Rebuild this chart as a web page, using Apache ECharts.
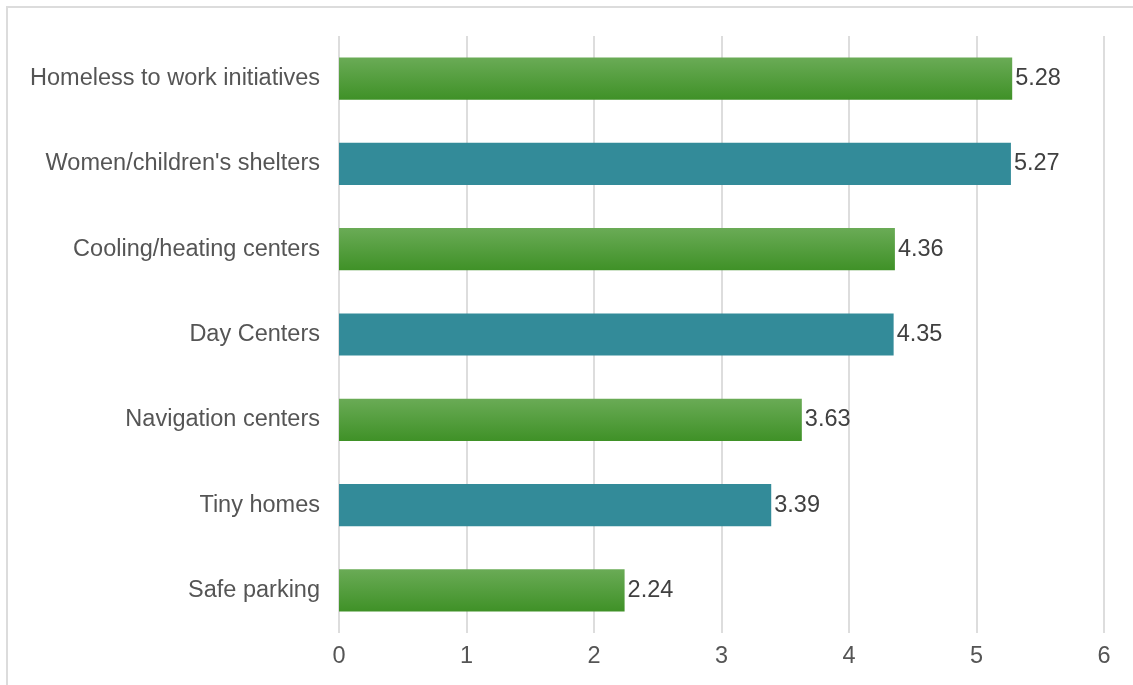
<!DOCTYPE html>
<html>
<head>
<meta charset="utf-8">
<script src="https://cdn.jsdelivr.net/npm/echarts@6/dist/echarts.min.js"></script>
<style>
  html, body { margin: 0; padding: 0; background: #fff; }
  #frame { position: absolute; left: 6px; top: 6px; right: -10px; bottom: -10px;
           border-left: 2px solid #dcdcdc; border-top: 2px solid #dcdcdc; }
  #chart { position: absolute; left: 0; top: 0; width: 1133px; height: 685px; }
</style>
</head>
<body>
<div id="frame"></div>
<div id="chart"></div>
<script>
// Service types, top to bottom, and their average ranking scores
const categories = [
  'Homeless to work initiatives',
  "Women/children's shelters",
  'Cooling/heating centers',
  'Day Centers',
  'Navigation centers',
  'Tiny homes',
  'Safe parking'
];
const scores = [5.28, 5.27, 4.36, 4.35, 3.63, 3.39, 2.24];
const axisTicks = [0, 1, 2, 3, 4, 5, 6];

const greenFill = new echarts.graphic.LinearGradient(0, 0, 0, 1, [
  { offset: 0, color: '#6aab56' },
  { offset: 1, color: '#3f9127' }
]);
const tealFill = '#338b99';

const chart = echarts.init(document.getElementById('chart'), null, { renderer: 'canvas' });
const font = '"Liberation Sans", Arial, Helvetica, sans-serif';

chart.setOption({
  animation: false,
  backgroundColor: 'transparent',
  grid: { left: 339, right: 29, top: 36, bottom: 52, containLabel: false },
  xAxis: {
    type: 'value',
    min: axisTicks[0],
    max: axisTicks[axisTicks.length - 1],
    interval: 1,
    axisLine: { show: false },
    axisTick: { show: false },
    axisLabel: { color: '#555', fontSize: 23.5, fontFamily: font, margin: 12 },
    splitLine: { show: true, lineStyle: { color: '#dddddd', width: 2 } }
  },
  yAxis: {
    type: 'category',
    inverse: true,
    data: categories,
    axisLine: { show: false },
    axisTick: { show: false },
    axisLabel: { color: '#555', fontSize: 23.5, fontFamily: font, margin: 19 }
  },
  series: [{
    type: 'bar',
    barWidth: '49.5%',
    data: scores.map((v, i) => ({
      value: v,
      itemStyle: { color: i % 2 === 0 ? greenFill : tealFill }
    })),
    label: {
      show: true,
      position: 'right',
      distance: 3,
      color: '#404040',
      fontSize: 23.5,
      fontFamily: font,
      formatter: p => p.value.toFixed(2)
    }
  }]
});
</script>
</body>
</html>
